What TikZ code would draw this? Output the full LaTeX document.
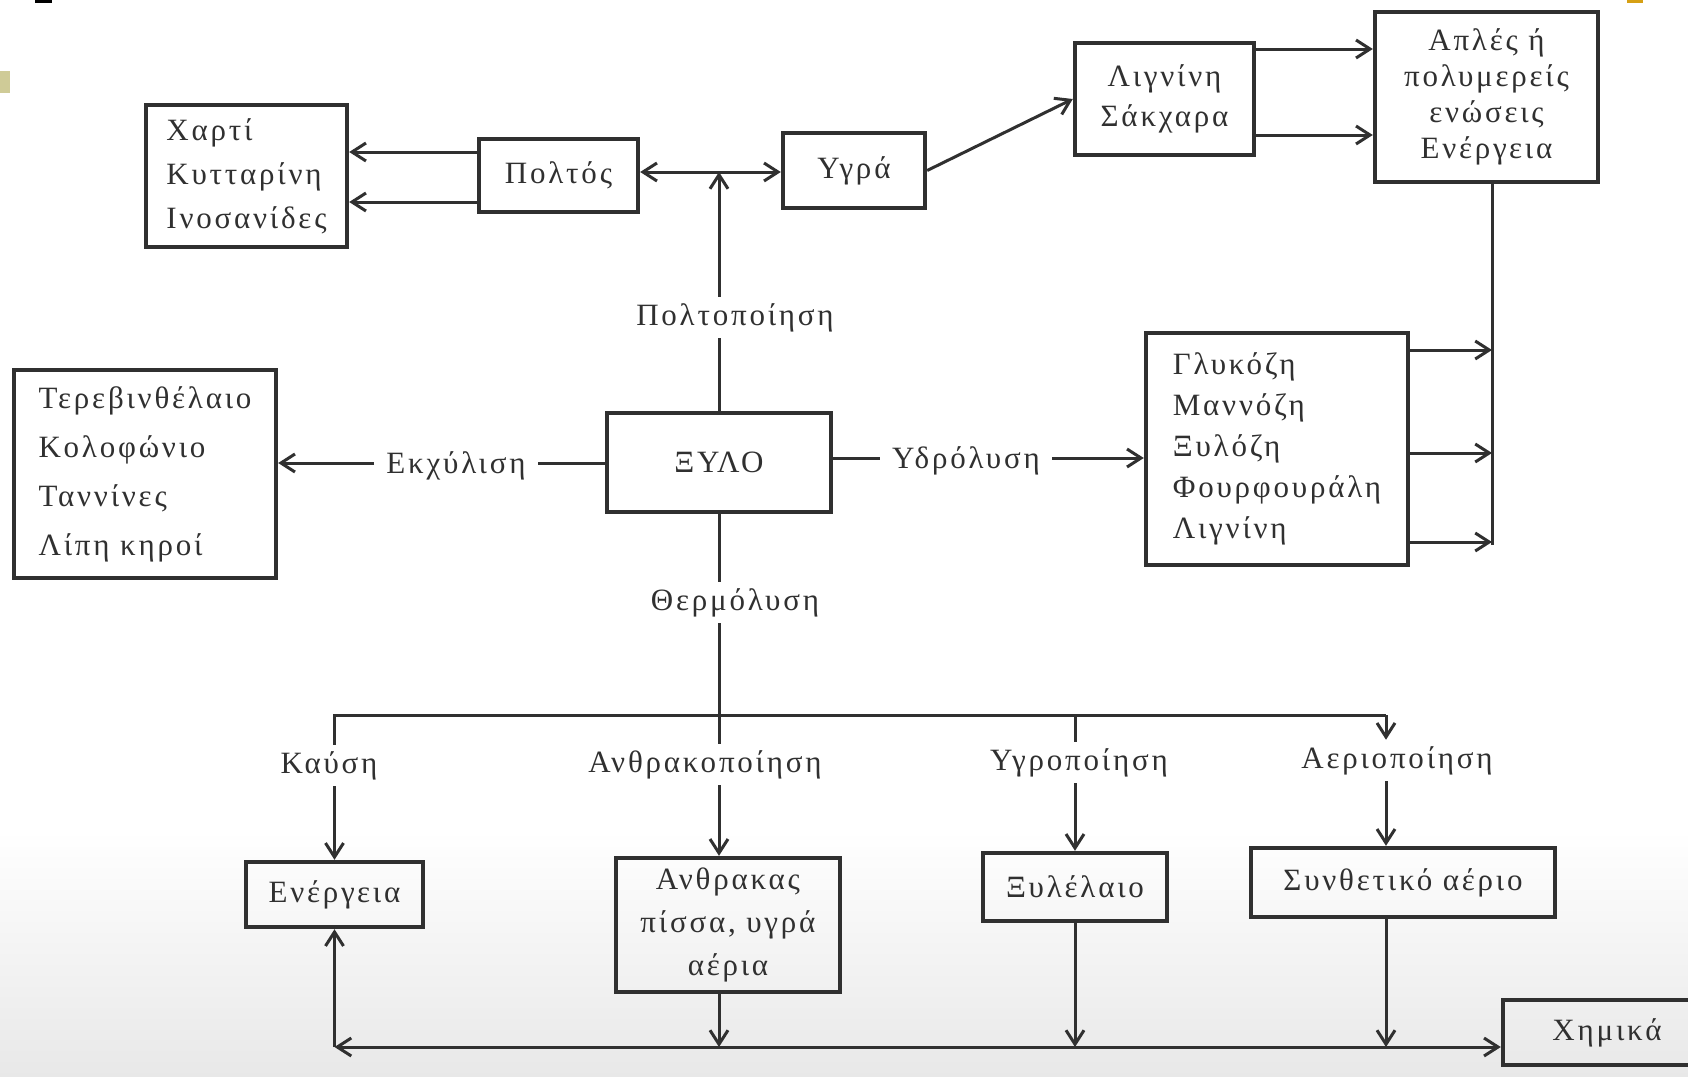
\documentclass[tikz,border=0pt]{standalone}
\usepackage{fontspec}
\setmainfont{Liberation Serif}[LetterSpace=9]
\usetikzlibrary{arrows.meta}
\definecolor{ink}{RGB}{48,48,48}
\definecolor{tanmark}{RGB}{207,203,151}
\definecolor{goldmark}{RGB}{214,160,20}
\begin{document}
\begin{tikzpicture}[x=0.5pt,y=-0.5pt,
  >={Straight Barb[length=7pt,width=9pt]},
  conn/.style={draw=ink, line width=1.5pt},
  blk/.style={draw=ink, line width=2.2pt, inner sep=0pt, text=ink, font=\fontsize{15.5}{20}\selectfont},
  lbl/.style={inner xsep=6pt, inner ysep=3pt, text=ink, anchor=base, font=\fontsize{15.5}{20}\selectfont},
]
\useasboundingbox (0,0) rectangle (1688,1077);
\fill[white] (0,0) rectangle (1688,1077);
\shade[top color=white, bottom color=black!9] (0,830) rectangle (1688,1077);
\clip (0,0) rectangle (1688,1077);
% slide marks
\fill[black] (35,0) rectangle (52,2.5);
\fill[tanmark] (0,71) rectangle (10,93);
\fill[goldmark] (1627,0) rectangle (1643,2.5);

% boxes
\node[blk, minimum width=100.5pt, minimum height=71pt, align=left, font=\fontsize{15.5}{22}\selectfont] (xarti) at (246.5,176) {Χαρτί\\Κυτταρίνη\\Ινοσανίδες};
\node[blk, minimum width=79.5pt, minimum height=36.5pt] (poltos) at (558.5,175.5) {Πολτός};
\node[blk, minimum width=71pt, minimum height=37.5pt] (ygra) at (854,170.5) {Υγρά};
\node[blk, minimum width=89.5pt, minimum height=56pt, align=center, font=\fontsize{15.5}{20}\selectfont] (lig) at (1164.5,99) {Λιγνίνη\\Σάκχαρα};
\node[blk, minimum width=111.5pt, minimum height=85pt, align=center, font=\fontsize{15.5}{18}\selectfont] (apl) at (1486.5,97) {Απλές ή\\πολυμερείς\\ενώσεις\\Ενέργεια};
\node[blk, minimum width=131pt, minimum height=104pt, align=left, font=\fontsize{15.5}{24.5}\selectfont] (terv) at (145,474) {Τερεβινθέλαιο\\Κολοφώνιο\\Ταννίνες\\Λίπη κηροί};
\node[blk, minimum width=112pt, minimum height=49.5pt] (xylo) at (719,462.5) {ΞΥΛΟ};
\node[blk, minimum width=131pt, minimum height=116pt, align=left, font=\fontsize{15.5}{20.5}\selectfont] (gluc) at (1277,449) {Γλυκόζη\\Μαννόζη\\Ξυλόζη\\Φουρφουράλη\\Λιγνίνη};
\node[blk, minimum width=88.5pt, minimum height=32.5pt] (ener) at (334.5,894.5) {Ενέργεια};
\node[blk, minimum width=112pt, minimum height=67pt, align=center, font=\fontsize{15.5}{21.5}\selectfont] (anth) at (728,925) {Ανθρακας\\πίσσα, υγρά\\αέρια};
\node[blk, minimum width=92pt, minimum height=34pt] (xyle) at (1075,887) {Ξυλέλαιο};
\node[blk, minimum width=152pt, minimum height=34.5pt] (synth) at (1403,882.5) {Συνθετικό αέριο};
\node[blk, minimum width=104pt, minimum height=32.5pt] (chem) at (1607,1032.5) {Χημικά};

% labels
\node[lbl] (poltlab) at (735,325) {Πολτοποίηση};
\node[lbl] (ekx) at (456,473) {Εκχύλιση};
\node[lbl] (ydr) at (966,468) {Υδρόλυση};
\node[lbl] (therm) at (735,610) {Θερμόλυση};
\node[lbl] (kaus) at (329,773) {Καύση};
\node[lbl] (anthlab) at (705,772) {Ανθρακοποίηση};
\node[lbl] (ygrlab) at (1079,770) {Υγροποίηση};
\node[lbl] (aerlab) at (1397,768) {Αεριοποίηση};

% coordinates
\coordinate (j) at (xylo.north |- 0,172);
\coordinate (vr) at (1492,545);
\coordinate (bL) at (ener.north |- 0,715);
\coordinate (bR) at (1386,715);
\coordinate (corner) at (ener.south |- 0,1047);

% top part
\draw[conn,->] (poltos.west |- 0,152) -- (xarti.east |- 0,152);
\draw[conn,->] (poltos.west |- 0,202) -- (xarti.east |- 0,202);
\draw[conn,<->] (poltos.east |- j) -- (ygra.west |- j);
\draw[conn] (xylo.north) -- (poltlab.south -| xylo.north);
\draw[conn,->] (poltlab.north -| xylo.north) -- (j);
\draw[conn,->] (ygra.east) -- (lig.west);
\draw[conn,->] (lig.east |- 0,49) -- (apl.west |- 0,49);
\draw[conn,->] (lig.east |- 0,135) -- (apl.west |- 0,135);
\draw[conn] (apl.south -| vr) -- (vr);
\draw[conn,->] (gluc.east |- 0,350) -- (vr |- 0,350);
\draw[conn,->] (gluc.east |- 0,453) -- (vr |- 0,453);
\draw[conn,->] (gluc.east |- 0,542) -- (vr |- 0,542);

% middle
\draw[conn] (xylo.west |- 0,463) -- (ekx.east |- 0,463);
\draw[conn,->] (ekx.west |- 0,463) -- (terv.east |- 0,463);
\draw[conn] (xylo.east |- 0,458) -- (ydr.west |- 0,458);
\draw[conn,->] (ydr.east |- 0,458) -- (gluc.west |- 0,458);
\draw[conn] (xylo.south) -- (therm.north -| xylo.south);
\draw[conn] (therm.south -| xylo.south) -- (anthlab.north -| xylo.south);

% bus
\draw[conn] (kaus.north -| bL) -- (bL) -- (bR);
\draw[conn,->] (bR) -- (aerlab.north -| bR);
\draw[conn] (bL -| xyle) -- (ygrlab.north -| xyle);
\draw[conn,->] (kaus.south -| ener) -- (ener.north);
\draw[conn,->] (anthlab.south -| xylo) -- (anth.north -| xylo);
\draw[conn,->] (ygrlab.south -| xyle) -- (xyle.north);
\draw[conn,->] (aerlab.south -| bR) -- (synth.north -| bR);

% bottom return
\draw[conn,->] (anth.south -| xylo) -- (xylo |- corner);
\draw[conn,->] (xyle.south) -- (xyle |- corner);
\draw[conn,->] (synth.south -| bR) -- (bR |- corner);
\draw[conn,->] (xylo |- corner) -- (corner);
\draw[conn,->] (corner) -- (ener.south);
\draw[conn,->] (xylo |- corner) -- (chem.west |- corner);
\end{tikzpicture}
\end{document}
